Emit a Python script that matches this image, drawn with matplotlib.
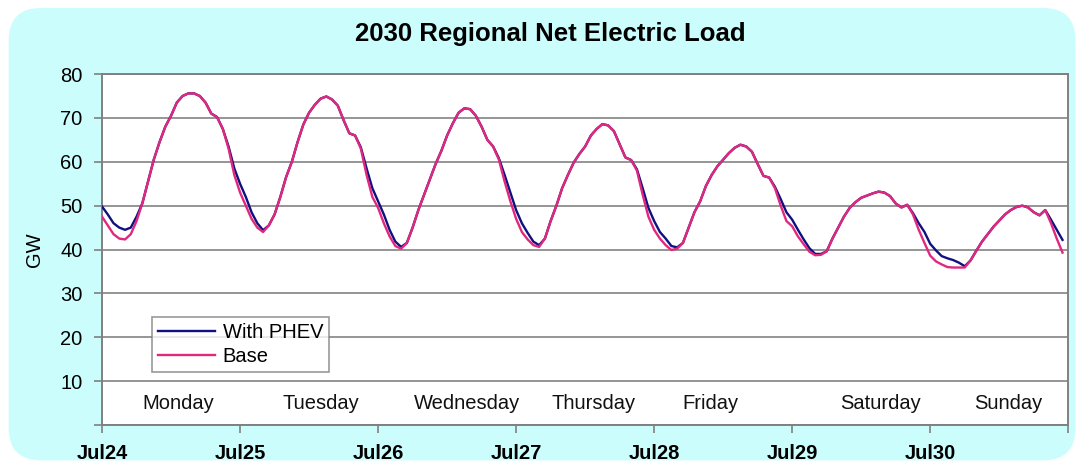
import numpy as np
from matplotlib import pyplot as plt
from matplotlib.patches import FancyBboxPatch

plt.rcParams['font.family'] = ['Liberation Sans', 'DejaVu Sans']

# hourly load, GW, one week starting Jul 24
base = [47.5, 45.5, 43.5, 42.5, 42.3, 43.5, 46.5, 50.5, 55.5, 60.5, 64.5, 68.0,
        70.5, 73.5, 75.0, 75.6, 75.6, 75.0, 73.5, 71.0, 70.2, 67.5, 63.0, 57.0,
        53.0, 50.0, 47.0, 45.0, 44.0, 45.5, 48.0, 52.0, 56.5, 60.0, 64.5, 68.5,
        71.2, 73.0, 74.4, 74.9, 74.2, 72.8, 69.5, 66.5, 66.0, 63.0, 57.0, 52.0,
        49.5, 46.0, 43.0, 40.8, 40.2, 41.5, 45.0, 49.0, 52.5, 56.0, 59.5, 62.5,
        66.0, 68.8, 71.2, 72.2, 72.0, 70.5, 68.0, 65.0, 63.5, 60.5, 55.5, 51.0,
        47.0, 44.0, 42.3, 41.0, 40.6, 42.5, 46.5, 50.0, 54.0, 57.0, 59.8, 61.8,
        63.5, 66.0, 67.5, 68.6, 68.3, 67.0, 64.0, 61.0, 60.4, 58.0, 52.5, 47.5,
        44.5, 42.5, 41.0, 39.9, 40.2, 41.5, 45.0, 48.5, 51.0, 54.5, 57.0, 59.0,
        60.5, 62.0, 63.2, 63.9, 63.5, 62.3, 59.5, 56.8, 56.4, 54.0, 50.0, 46.5,
        45.3, 43.0, 41.2, 39.5, 38.7, 38.8, 39.6, 42.5, 45.0, 47.5, 49.5, 50.8,
        51.8, 52.3, 52.8, 53.2, 53.0, 52.2, 50.5, 49.6, 50.2, 48.0, 44.5, 41.5,
        38.6, 37.3, 36.6, 36.0, 35.9, 35.9, 35.9, 37.5, 39.7, 41.8, 43.5, 45.2,
        46.6, 48.0, 49.0, 49.7, 50.0, 49.6, 48.5, 47.8, 49.0, 46.0, 42.5, 39.3]

with_phev = [49.8, 48.0, 46.0, 45.0, 44.5, 45.0, 47.5, 50.5, 55.5, 60.5, 64.5, 68.0,
             70.5, 73.5, 75.0, 75.6, 75.6, 75.0, 73.5, 71.0, 70.2, 67.5, 63.5, 58.5,
             55.0, 52.0, 48.5, 46.0, 44.4, 45.5, 48.0, 52.0, 56.5, 60.0, 64.5, 68.5,
             71.2, 73.0, 74.4, 74.9, 74.2, 72.8, 69.5, 66.5, 66.0, 63.3, 58.5, 54.0,
             51.0, 48.0, 44.5, 41.8, 40.6, 41.5, 45.0, 49.0, 52.5, 56.0, 59.5, 62.5,
             66.0, 68.8, 71.2, 72.2, 72.0, 70.5, 68.0, 65.0, 63.5, 60.8, 57.0, 53.0,
             49.0, 46.0, 43.8, 41.8, 41.0, 42.5, 46.5, 50.0, 54.0, 57.0, 59.8, 61.8,
             63.5, 66.0, 67.5, 68.6, 68.3, 67.0, 64.0, 61.0, 60.4, 58.3, 54.0, 49.5,
             46.5, 44.0, 42.5, 40.8, 40.5, 41.5, 45.0, 48.5, 51.0, 54.5, 57.0, 59.0,
             60.5, 62.0, 63.2, 63.9, 63.5, 62.3, 59.5, 56.8, 56.4, 54.3, 51.5, 48.5,
             46.8, 44.5, 42.3, 40.3, 39.0, 39.0, 39.6, 42.5, 45.0, 47.5, 49.5, 50.8,
             51.8, 52.3, 52.8, 53.2, 53.0, 52.2, 50.5, 49.6, 50.2, 48.3, 46.0, 44.0,
             41.3, 39.8, 38.5, 38.0, 37.6, 37.0, 36.2, 37.5, 39.7, 41.8, 43.5, 45.2,
             46.6, 48.0, 49.0, 49.7, 50.0, 49.6, 48.5, 47.8, 49.0, 46.8, 44.5, 42.2]

date_labels = ['Jul24', 'Jul25', 'Jul26', 'Jul27', 'Jul28', 'Jul29', 'Jul30']
day_names = ['Monday', 'Tuesday', 'Wednesday', 'Thursday', 'Friday', 'Saturday', 'Sunday']
day_name_hours = [13.2, 38.0, 63.5, 85.4, 105.7, 135.4, 157.6]

hours = np.arange(len(base))

fig = plt.figure(figsize=(10.82, 4.66), dpi=100)
fig.patch.set_facecolor('white')

# rounded cyan background panel
panel = FancyBboxPatch((0.008, 0.012), 0.986, 0.971,
                       boxstyle='round,pad=0,rounding_size=0.03',
                       transform=fig.transFigure, facecolor='#ccfdfd',
                       edgecolor='none', zorder=-10, mutation_aspect=1082/466)
fig.patches.append(panel)

ax = fig.add_axes([0.0943, 0.088, 0.893, 0.753])
ax.set_facecolor('white')

ax.plot(hours, with_phev, color='#101080', lw=1.7, label='With PHEV', zorder=3)
ax.plot(hours, base, color='#e0287f', lw=1.7, label='Base', zorder=4)

ax.set_xlim(0, 168)
ax.set_ylim(0, 80)

ax.set_yticks(np.arange(0, 81, 10))
ax.set_yticklabels([''] + [str(v) for v in range(10, 81, 10)])
ax.set_xticks(np.arange(0, 169, 24))
ax.set_xticklabels(date_labels + [''], fontweight='bold')

ax.tick_params(axis='y', labelsize=14.5, length=6, width=1.2, color='#808080', pad=8)
ax.tick_params(axis='x', labelsize=14.5, length=6, width=1.2, color='#808080', pad=8)

ax.grid(axis='y', color='#8c8c8c', lw=1.3)
ax.set_axisbelow(True)
for s in ax.spines.values():
    s.set_color('#808080')
    s.set_linewidth(1.4)

for name, h in zip(day_names, day_name_hours):
    ax.text(h, 5.0, name, ha='center', va='center', fontsize=14.5, color='#111111')

ax.set_ylabel('GW', fontsize=14.5, labelpad=12)

leg = ax.legend(loc='lower left', bbox_to_anchor=(0.052, 0.15), fontsize=14.5,
                frameon=True, fancybox=False, borderpad=0.3, labelspacing=0.25,
                handlelength=2.8, handletextpad=0.4, borderaxespad=0)
leg.get_frame().set_edgecolor('#808080')
leg.get_frame().set_linewidth(1.2)

fig.text(0.509, 0.928, '2030 Regional Net Electric Load', ha='center', va='center',
         fontsize=18.5, fontweight='bold')

fig.savefig('out.png', dpi=100, facecolor=fig.get_facecolor())
plt.close(fig)
